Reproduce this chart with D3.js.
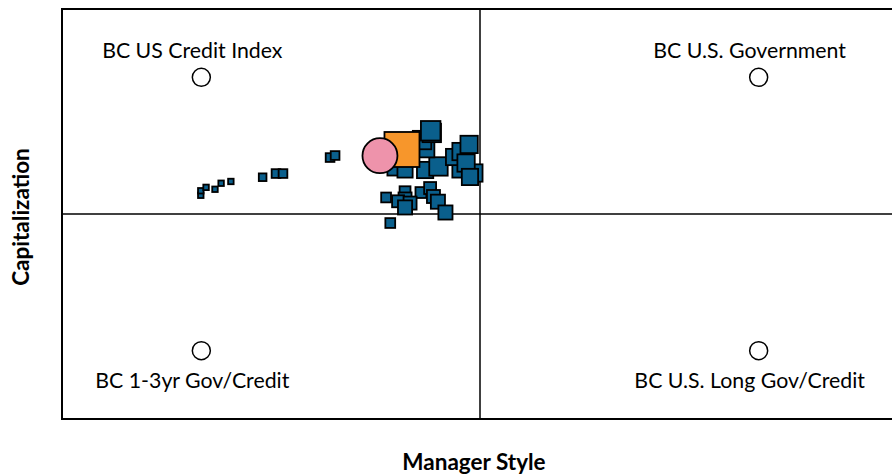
<!DOCTYPE html>
<html>
<head>
<meta charset="utf-8">
<script src="https://cdn.jsdelivr.net/npm/d3@7"></script>
<style>
  html, body { margin: 0; padding: 0; background: #fff; }
  svg { display: block; }
  text { font-family: Lato, "Open Sans", sans-serif; fill: #000; }
</style>
</head>
<body>
<svg id="chart" width="892" height="474"></svg>
<script>
// Style-map positions (manager style on x, capitalization on y)
const benchmarkNames = ["BC US Credit Index", "BC U.S. Government", "BC 1-3yr Gov/Credit", "BC U.S. Long Gov/Credit"];
const benchmarkX = [-1, 1, -1, 1];
const benchmarkY = [1, 1, -1, -1];

// Rolling-window trail, oldest first; weight grows with recency
const trailX = [-1.002, -1.002, -0.983, -0.951, -0.929, -0.894, -0.780, -0.732, -0.707, -0.538, -0.520,
                -0.322, -0.337, -0.269, -0.212, -0.179, -0.269, -0.294, -0.251, -0.167, -0.151, -0.269, -0.124,
                -0.305, -0.269, -0.197, -0.149, -0.070, -0.022, -0.093, -0.068, -0.039, -0.191,
                -0.208, -0.173, -0.177, -0.050, -0.036];
const trailY = [0.137, 0.170, 0.195, 0.181, 0.225, 0.238, 0.269, 0.296, 0.296, 0.413, 0.428,
                -0.066, 0.121, 0.163, 0.157, 0.190, 0.110, 0.093, 0.080, 0.128, 0.090, 0.048, 0.011,
                0.337, 0.322, 0.322, 0.348, 0.326, 0.300, 0.417, 0.457, 0.509, 0.470,
                0.541, 0.593, 0.609, 0.373, 0.271];
const trailWeight = [1, 1, 1, 1, 1, 1, 3, 4, 4, 4, 4,
                     5, 5, 6, 6, 7, 8, 7, 8, 8, 9, 9, 9,
                     10, 10, 11, 13, 11, 12, 11, 12, 12, 10,
                     13, 13, 14, 12, 11];

// Current manager and its benchmark
const managerX = [-0.280];
const managerY = [0.472];
const benchmarkPointX = [-0.359];
const benchmarkPointY = [0.427];

const axisTitleX = "Manager Style";
const axisTitleY = "Capitalization";

const svg = d3.select("#chart");
const plot = { left: 62, top: 9, right: 898, bottom: 419 };

const x = d3.scaleLinear().domain([-1.5, 1.5]).range([plot.left, plot.right]);
const y = d3.scaleLinear().domain([-1.5, 1.5]).range([plot.bottom, plot.top]);
const size = d3.scaleLinear().domain([1, 14]).range([5.5, 19.5]);

// Frame
svg.append("rect")
  .attr("x", plot.left).attr("y", plot.top)
  .attr("width", plot.right - plot.left).attr("height", plot.bottom - plot.top)
  .attr("fill", "none").attr("stroke", "#000").attr("stroke-width", 2);

// Quadrant dividers
svg.append("line")
  .attr("x1", x(0)).attr("x2", x(0)).attr("y1", plot.top).attr("y2", plot.bottom)
  .attr("stroke", "#000").attr("stroke-width", 1.5);
svg.append("line")
  .attr("x1", plot.left).attr("x2", plot.right).attr("y1", y(0)).attr("y2", y(0))
  .attr("stroke", "#000").attr("stroke-width", 1.5);

// Benchmark corners
const corners = benchmarkNames.map((name, i) => ({ name, x: benchmarkX[i], y: benchmarkY[i] }));
svg.append("g").selectAll("circle").data(corners).join("circle")
  .attr("cx", d => x(d.x)).attr("cy", d => y(d.y)).attr("r", 9)
  .attr("fill", "#fff").attr("stroke", "#000").attr("stroke-width", 1.5);
svg.append("g").selectAll("text").data(corners).join("text")
  .attr("x", d => x(d.x) - 9)
  .attr("y", d => d.y > 0 ? y(d.y) - 27 : y(d.y) + 29)
  .attr("text-anchor", "middle").attr("dominant-baseline", "central")
  .attr("font-size", 21.3)
  .text(d => d.name);

// Trail squares
const trail = trailX.map((v, i) => ({ x: v, y: trailY[i], w: trailWeight[i] }));
svg.append("g").selectAll("rect").data(trail).join("rect")
  .attr("x", d => x(d.x) - size(d.w) / 2)
  .attr("y", d => y(d.y) - size(d.w) / 2)
  .attr("width", d => size(d.w)).attr("height", d => size(d.w))
  .attr("fill", "#0a5f8c").attr("stroke", "#000").attr("stroke-width", 1.8);

// Manager (current)
const mgrSize = 35;
svg.append("rect")
  .attr("x", x(managerX[0]) - mgrSize / 2).attr("y", y(managerY[0]) - mgrSize / 2)
  .attr("width", mgrSize).attr("height", mgrSize)
  .attr("fill", "#f7962b").attr("stroke", "#000").attr("stroke-width", 1.8);

// Benchmark (current)
svg.append("circle")
  .attr("cx", x(benchmarkPointX[0])).attr("cy", y(benchmarkPointY[0])).attr("r", 17.5)
  .attr("fill", "#ee93ab").attr("stroke", "#000").attr("stroke-width", 1.8);

// Axis titles
svg.append("text")
  .attr("x", 474).attr("y", 461)
  .attr("text-anchor", "middle").attr("dominant-baseline", "central")
  .attr("font-size", 22.5).attr("font-weight", "bold")
  .text(axisTitleX);
svg.append("text")
  .attr("transform", "translate(20,217) rotate(-90)")
  .attr("text-anchor", "middle").attr("dominant-baseline", "central")
  .attr("font-size", 22.5).attr("font-weight", "bold")
  .text(axisTitleY);
</script>
</body>
</html>
